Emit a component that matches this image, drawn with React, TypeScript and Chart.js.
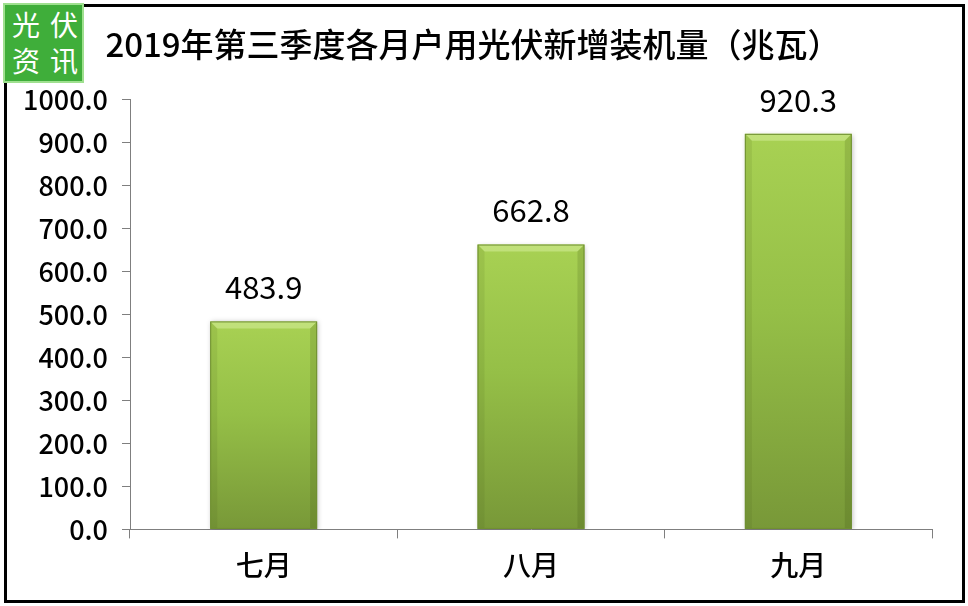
import React, { useEffect, useRef } from "react";
import { Chart, registerables } from "chart.js";

Chart.register(...registerables);

const TITLE = "2019年第三季度各月户用光伏新增装机量（兆瓦）";
const categories = ["七月", "八月", "九月"];
const installedMW = [483.9, 662.8, 920.3];
const Y_MIN = 0;
const Y_MAX = 1000;
const Y_STEP = 100;

const FONT = '"Noto Sans CJK SC", "Noto Sans", sans-serif';

export default function App() {
  const ref = useRef<HTMLCanvasElement>(null);

  useEffect(() => {
    document.body.style.margin = "0";
    const canvas = ref.current;
    if (!canvas) return;

    const barFill = (c: any) => {
      const chart = c.chart;
      const ys = chart.scales && chart.scales.y;
      const v = installedMW[c.dataIndex];
      if (!ys || v === undefined) return "#93bb45";
      const top = ys.getPixelForValue(v);
      const bot = ys.getPixelForValue(0);
      if (!isFinite(top) || !isFinite(bot) || top === bot) return "#93bb45";
      const g = chart.ctx.createLinearGradient(0, top, 0, bot);
      g.addColorStop(0, "#a8d153");
      g.addColorStop(0.45, "#95bf47");
      g.addColorStop(1, "#789838");
      return g;
    };

    const bevelPlugin = {
      id: "bevel",
      beforeDatasetsDraw(chart: any) {
        const ctx = chart.ctx;
        ctx.save();
        ctx.shadowColor = "rgba(0,0,0,0.28)";
        ctx.shadowBlur = 5;
        ctx.shadowOffsetX = 1;
        ctx.shadowOffsetY = 1;
      },
      afterDatasetsDraw(chart: any) {
        const ctx = chart.ctx;
        ctx.restore();
        const meta = chart.getDatasetMeta(0);
        meta.data.forEach((bar: any, i: number) => {
          const { x, y, width, base } = bar.getProps(["x", "y", "width", "base"], true);
          const l = x - width / 2;
          const r = x + width / 2;
          const b = 7;
          ctx.save();
          ctx.beginPath();
          ctx.moveTo(l, y);
          ctx.lineTo(r, y);
          ctx.lineTo(r - b, y + b);
          ctx.lineTo(l + b, y + b);
          ctx.closePath();
          ctx.fillStyle = "rgba(225,245,170,0.45)";
          ctx.fill();
          ctx.beginPath();
          ctx.moveTo(l, y);
          ctx.lineTo(l + b, y + b);
          ctx.lineTo(l + b, base - 1);
          ctx.lineTo(l, base);
          ctx.closePath();
          ctx.fillStyle = "rgba(60,80,20,0.10)";
          ctx.fill();
          ctx.beginPath();
          ctx.moveTo(r, y);
          ctx.lineTo(r - b, y + b);
          ctx.lineTo(r - b, base - 1);
          ctx.lineTo(r, base);
          ctx.closePath();
          ctx.fillStyle = "rgba(50,70,10,0.16)";
          ctx.fill();
          ctx.strokeStyle = "#6f8f31";
          ctx.lineWidth = 1;
          ctx.strokeRect(l + 0.5, y + 0.5, width - 1, base - y - 1);
          ctx.fillStyle = "#000";
          ctx.font = `31px ${FONT}`;
          ctx.textAlign = "center";
          ctx.textBaseline = "middle";
          ctx.fillText(installedMW[i].toFixed(1), x, y - 34);
          ctx.restore();
        });
      },
    };

    const chart = new Chart(canvas, {
      type: "bar",
      data: {
        labels: categories,
        datasets: [
          {
            data: installedMW,
            backgroundColor: barFill,
            borderWidth: 0,
            barPercentage: 0.4,
            categoryPercentage: 1,
          },
        ],
      },
      options: {
        animation: false,
        responsive: false,
        maintainAspectRatio: false,
        layout: { padding: { left: 14, right: 36, top: 0, bottom: 14 } },
        plugins: {
          legend: { display: false },
          tooltip: { enabled: false },
          title: {
            display: true,
            text: TITLE,
            color: "#000",
            font: { family: FONT, size: 33, weight: "500" },
            padding: { top: 25, bottom: 35 },
          },
        },
        scales: {
          x: {
            grid: {
              display: true,
              drawOnChartArea: false,
              drawTicks: true,
              tickLength: 9,
              color: "#7f7f7f",
              offset: true,
            },
            border: { display: true, color: "#7f7f7f", width: 1 },
            ticks: {
              color: "#000",
              font: { family: FONT, size: 28, weight: "500" },
              padding: 10,
            },
          },
          y: {
            min: Y_MIN,
            max: Y_MAX,
            afterFit: (s: any) => {
              s.width = 116;
            },
            grid: {
              display: true,
              drawOnChartArea: false,
              drawTicks: true,
              tickLength: 8,
              color: "#7f7f7f",
            },
            border: { display: true, color: "#7f7f7f", width: 1 },
            ticks: {
              stepSize: Y_STEP,
              color: "#000",
              font: { family: FONT, size: 27, weight: "500" },
              padding: 14,
              callback: (v: any) => Number(v).toFixed(1),
            },
          },
        },
      },
      plugins: [bevelPlugin],
    });

    return () => chart.destroy();
  }, []);

  return (
    <div style={{ position: "absolute", left: 0, top: 0, width: 968, height: 606, background: "#fff" }}>
      <canvas ref={ref} width={968} height={606} style={{ position: "absolute", left: 0, top: 0 }} />
      <div
        style={{
          position: "absolute",
          left: 4,
          top: 4,
          width: 961,
          height: 599,
          boxSizing: "border-box",
          border: "3px solid #000",
          pointerEvents: "none",
        }}
      />
      <div
        style={{
          position: "absolute",
          left: 3,
          top: 3,
          width: 81,
          height: 80,
          boxSizing: "border-box",
          border: "2px solid #9fe08f",
          background: "#3fae3a",
          color: "#fff",
          fontFamily: FONT,
          fontSize: 28,
          lineHeight: "36px",
          letterSpacing: 10,
          paddingLeft: 7,
          paddingTop: 1,
          whiteSpace: "nowrap",
          overflow: "hidden",
        }}
      >
        <div>光伏</div>
        <div>资讯</div>
      </div>
    </div>
  );
}
